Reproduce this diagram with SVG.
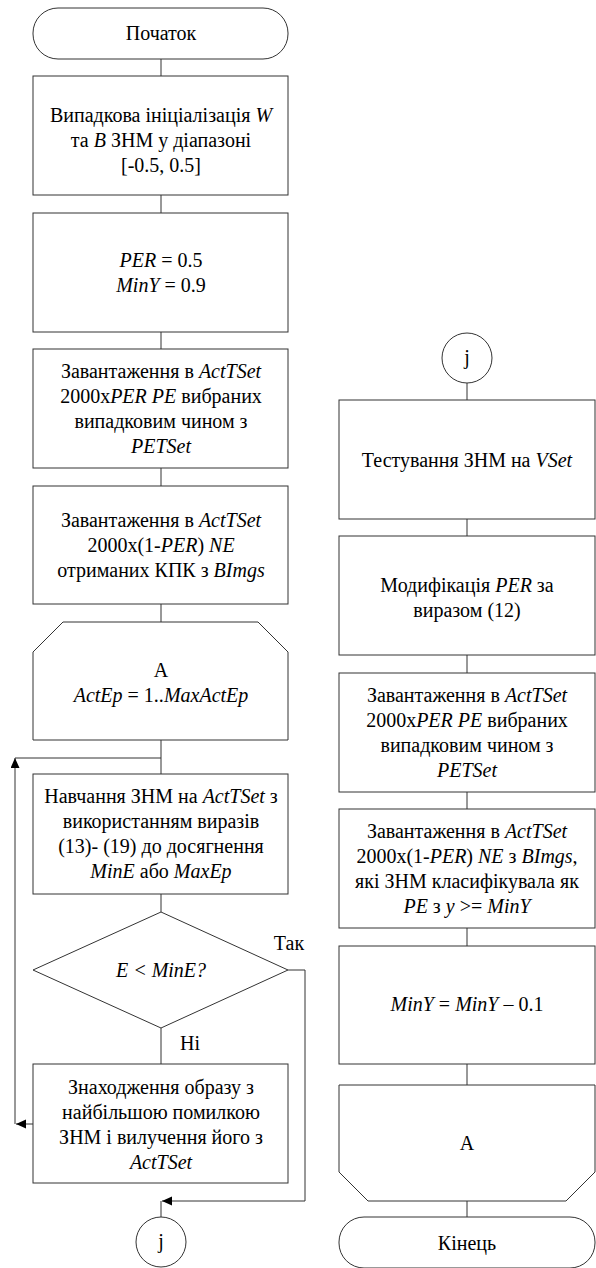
<svg xmlns="http://www.w3.org/2000/svg" width="596" height="1268" viewBox="0 0 596 1268" font-family="Liberation Serif, Times New Roman, DejaVu Serif, serif">
<style>
.s{fill:#fff;stroke:#333;stroke-width:1}
.c{fill:none;stroke:#333;stroke-width:1}
text{font-size:20px;fill:#000;text-anchor:middle}
.i{font-style:italic}
</style>
<defs>
<marker id="ah" markerUnits="userSpaceOnUse" markerWidth="12" markerHeight="10" refX="10" refY="4.5" orient="auto">
<path d="M0,0 L10,4.5 L0,9 Z" fill="#000"/>
</marker>
</defs>
<g id="connectors">
<path class="c" d="M161,59V76M161,195V213M161,332V349M161,468V486M161,604V622M161,740V774M161,894V912M161,1028V1064"/>
<path class="c" d="M288,970H305V1201H162" marker-end="url(#ah)"/>
<path class="c" d="M161,1201V1217"/>
<path class="c" d="M33,1124H16" marker-end="url(#ah)"/>
<path class="c" d="M15,1124V758" marker-end="url(#ah)"/>
<path class="c" d="M15,758H161"/>
<path class="c" d="M467,383V400M467,519V536M467,655V673M467,792V809M467,928V946M467,1064V1085M467,1201V1217"/>
</g>
<g id="start">
<rect class="s" x="33" y="8" width="255" height="51" rx="25" ry="25"/>
<text x="161" y="40">Початок</text>
</g>
<g id="init">
<rect class="s" x="33" y="76" width="255" height="119"/>
<text x="161" y="122">Випадкова ініціалізація <tspan class="i">W</tspan></text>
<text x="161" y="147">та <tspan class="i">B</tspan> ЗНМ у діапазоні</text>
<text x="161" y="172">[-0.5, 0.5]</text>
</g>
<g id="params">
<rect class="s" x="33" y="213" width="255" height="119"/>
<text x="161" y="267"><tspan class="i">PER</tspan> = 0.5</text>
<text x="161" y="292"><tspan class="i">MinY</tspan> = 0.9</text>
</g>
<g id="loadPE">
<rect class="s" x="33" y="349" width="255" height="119"/>
<text x="161" y="378">Завантаження в <tspan class="i">ActTSet</tspan></text>
<text x="161" y="403">2000x<tspan class="i">PER PE</tspan> вибраних</text>
<text x="161" y="428">випадковим чином з</text>
<text x="161" y="453" class="i">PETSet</text>
</g>
<g id="loadNE">
<rect class="s" x="33" y="486" width="255" height="118"/>
<text x="161" y="527">Завантаження в <tspan class="i">ActTSet</tspan></text>
<text x="161" y="552">2000x(1-<tspan class="i">PER</tspan>) <tspan class="i">NE</tspan></text>
<text x="161" y="577">отриманих КПК з <tspan class="i">BImgs</tspan></text>
</g>
<g id="loopStart">
<polygon class="s" points="33,652 63,622 258,622 288,652 288,740 33,740"/>
<text x="161" y="677">A</text>
<text x="161" y="702"><tspan class="i">ActEp</tspan> = 1..<tspan class="i">MaxActEp</tspan></text>
</g>
<g id="train">
<rect class="s" x="33" y="774" width="255" height="120"/>
<text x="161" y="803">Навчання ЗНМ на <tspan class="i">ActTSet</tspan> з</text>
<text x="161" y="828">використанням виразів</text>
<text x="161" y="853">(13)- (19) до досягнення</text>
<text x="161" y="878"><tspan class="i">MinE</tspan> або <tspan class="i">MaxEp</tspan></text>
</g>
<g id="decision">
<polygon class="s" points="161,912 288,970 161,1028 33,970"/>
<text x="161" y="977" class="i">E &lt; MinE?</text>
<text x="289" y="950">Так</text>
<text x="190" y="1050">Ні</text>
</g>
<g id="remove">
<rect class="s" x="33" y="1064" width="255" height="119"/>
<text x="161" y="1094">Знаходження образу з</text>
<text x="161" y="1119">найбільшою помилкою</text>
<text x="161" y="1144">ЗНМ і вилучення його з</text>
<text x="161" y="1169" class="i">ActTSet</text>
</g>
<g id="connJ1">
<circle class="s" cx="161" cy="1242" r="25"/>
<text x="161" y="1248">j</text>
</g>
<g id="connJ2">
<circle class="s" cx="467" cy="358" r="25"/>
<text x="467" y="364">j</text>
</g>
<g id="test">
<rect class="s" x="339" y="400" width="256" height="119"/>
<text x="467" y="467">Тестування ЗНМ на <tspan class="i">VSet</tspan></text>
</g>
<g id="modify">
<rect class="s" x="339" y="536" width="256" height="119"/>
<text x="467" y="592">Модифікація <tspan class="i">PER</tspan> за</text>
<text x="467" y="617">виразом (12)</text>
</g>
<g id="loadPE2">
<rect class="s" x="339" y="673" width="256" height="119"/>
<text x="467" y="702">Завантаження в <tspan class="i">ActTSet</tspan></text>
<text x="467" y="727">2000x<tspan class="i">PER PE</tspan> вибраних</text>
<text x="467" y="752">випадковим чином з</text>
<text x="467" y="777" class="i">PETSet</text>
</g>
<g id="loadNE2">
<rect class="s" x="339" y="809" width="256" height="119"/>
<text x="467" y="838">Завантаження в <tspan class="i">ActTSet</tspan></text>
<text x="467" y="863">2000x(1-<tspan class="i">PER</tspan>) <tspan class="i">NE</tspan> з <tspan class="i">BImgs</tspan>,</text>
<text x="467" y="888">які ЗНМ класифікувала як</text>
<text x="467" y="913"><tspan class="i">PE</tspan> з <tspan class="i">y</tspan> &gt;= <tspan class="i">MinY</tspan></text>
</g>
<g id="decMinY">
<rect class="s" x="339" y="946" width="256" height="118"/>
<text x="467" y="1011"><tspan class="i">MinY</tspan> = <tspan class="i">MinY</tspan> – 0.1</text>
</g>
<g id="loopEnd">
<polygon class="s" points="339,1085 595,1085 595,1172 566,1201 368,1201 339,1172"/>
<text x="467" y="1150">A</text>
</g>
<g id="end">
<rect class="s" x="339" y="1217" width="256" height="51" rx="25" ry="25"/>
<text x="467" y="1250">Кінець</text>
</g>
</svg>
